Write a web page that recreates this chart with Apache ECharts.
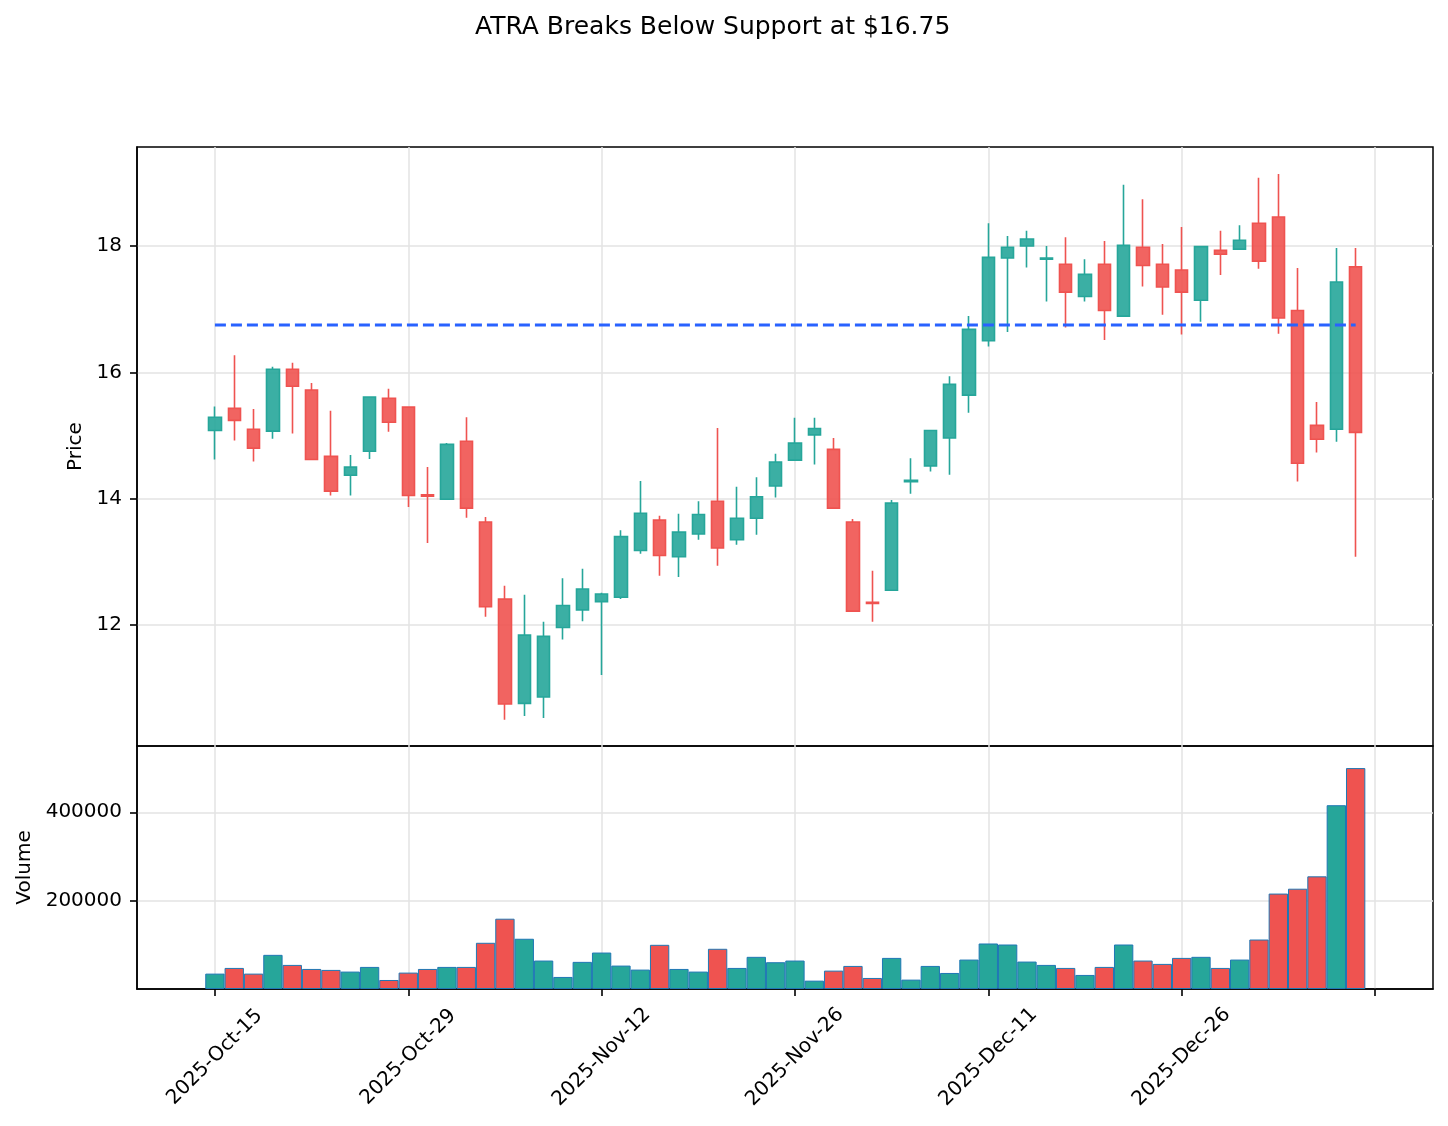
<!DOCTYPE html>
<html>
<head>
<meta charset="utf-8">
<script src="https://cdn.jsdelivr.net/npm/echarts@6/dist/echarts.min.js"></script>
<style>
  html, body { margin: 0; padding: 0; background: #fff; }
  #main { width: 1448px; height: 1126px; }
</style>
</head>
<body>
<div id="main"></div>
<script>
// trading days (index 0..59)
var dates = [
  '2025-Oct-15', '2025-Oct-16', '2025-Oct-17', '2025-Oct-20', '2025-Oct-21', '2025-Oct-22', '2025-Oct-23', '2025-Oct-24', '2025-Oct-27', '2025-Oct-28',
  '2025-Oct-29', '2025-Oct-30', '2025-Oct-31', '2025-Nov-03', '2025-Nov-04', '2025-Nov-05', '2025-Nov-06', '2025-Nov-07', '2025-Nov-10', '2025-Nov-11',
  '2025-Nov-12', '2025-Nov-13', '2025-Nov-14', '2025-Nov-17', '2025-Nov-18', '2025-Nov-19', '2025-Nov-20', '2025-Nov-21', '2025-Nov-24', '2025-Nov-25',
  '2025-Nov-26', '2025-Nov-28', '2025-Dec-01', '2025-Dec-02', '2025-Dec-03', '2025-Dec-04', '2025-Dec-05', '2025-Dec-08', '2025-Dec-09', '2025-Dec-10',
  '2025-Dec-11', '2025-Dec-12', '2025-Dec-15', '2025-Dec-16', '2025-Dec-17', '2025-Dec-18', '2025-Dec-19', '2025-Dec-22', '2025-Dec-23', '2025-Dec-24',
  '2025-Dec-26', '2025-Dec-29', '2025-Dec-30', '2025-Dec-31', '2026-Jan-02', '2026-Jan-05', '2026-Jan-06', '2026-Jan-07', '2026-Jan-08', '2026-Jan-09'
];

var opens = [
  15.08, 15.43, 15.10, 15.07, 16.05, 15.72, 14.67, 14.37, 14.75, 15.59,
  15.45, 14.06, 13.99, 14.91, 13.63, 12.41, 10.76, 10.86, 11.96, 12.24,
  12.37, 12.44, 13.18, 13.66, 13.08, 13.44, 13.96, 13.35, 13.69, 14.20,
  14.61, 15.01, 14.78, 13.63, 12.36, 12.55, 14.27, 14.52, 14.96, 15.64,
  16.50, 17.81, 18.00, 17.79, 17.71, 17.20, 17.71, 16.89, 17.98, 17.71,
  17.62, 17.14, 17.93, 17.95, 18.36, 18.46, 16.98, 15.16, 15.10, 17.67
];
var closes = [
  15.29, 15.24, 14.80, 16.05, 15.78, 14.62, 14.12, 14.50, 15.61, 15.21,
  14.05, 14.04, 14.86, 13.85, 12.29, 10.75, 11.84, 11.82, 12.31, 12.57,
  12.49, 13.40, 13.77, 13.10, 13.47, 13.75, 13.22, 13.69, 14.03, 14.58,
  14.88, 15.11, 13.85, 12.22, 12.34, 13.93, 14.29, 15.08, 15.81, 16.68,
  17.82, 17.98, 18.11, 17.81, 17.27, 17.55, 16.98, 18.01, 17.69, 17.35,
  17.27, 17.99, 17.87, 18.09, 17.76, 16.86, 14.56, 14.94, 17.43, 15.05
];
var lows = [
  14.62, 14.92, 14.59, 14.95, 15.03, 14.61, 14.05, 14.05, 14.63, 15.06,
  13.87, 13.30, 13.99, 13.70, 12.13, 10.50, 10.56, 10.53, 11.77, 12.06,
  11.21, 12.41, 13.13, 12.78, 12.76, 13.35, 12.94, 13.27, 13.43, 14.02,
  14.61, 14.54, 13.85, 12.22, 12.05, 12.55, 14.08, 14.43, 14.38, 15.36,
  16.41, 16.64, 17.66, 17.12, 16.71, 17.12, 16.51, 16.89, 17.36, 16.91,
  16.60, 16.80, 17.54, 17.95, 17.64, 16.61, 14.27, 14.73, 14.90, 13.08
];
var highs = [
  15.46, 16.27, 15.42, 16.09, 16.15, 15.83, 15.39, 14.69, 15.61, 15.74,
  15.45, 14.50, 14.88, 15.29, 13.71, 12.62, 12.48, 12.05, 12.74, 12.89,
  12.51, 13.50, 14.28, 13.73, 13.76, 13.96, 15.12, 14.19, 14.34, 14.71,
  15.28, 15.28, 14.96, 13.68, 12.86, 13.98, 14.64, 15.08, 15.94, 16.89,
  18.36, 18.16, 18.24, 18.00, 18.14, 17.79, 18.08, 18.97, 18.74, 18.03,
  18.30, 17.99, 18.24, 18.33, 19.08, 19.14, 17.65, 15.53, 17.97, 17.97
];
var volumes = [
  34800, 47700, 34800, 77300, 54500, 45400, 43200, 39400, 50000, 20400,
  37100, 45400, 50000, 50000, 104600, 159100, 113700, 64400, 27300, 61400,
  82500, 53000, 43900, 100000, 45400, 39400, 91000, 47700, 72800, 60600,
  64400, 18900, 41600, 52200, 25000, 70400, 21200, 52200, 36300, 66600,
  103000, 100700, 62100, 54500, 47700, 31800, 50000, 100700, 64400, 56800,
  70400, 72800, 47700, 66600, 112000, 216000, 227000, 255000, 416000, 500000
];

var supportLevel = 16.75;
var xTicks = [0, 10, 20, 30, 40, 50, 60];
var priceTicks = [12, 14, 16, 18];
var volumeTicks = [200000, 400000];

var UP = '#26a69a';
var DOWN = '#ef5350';
var FONT = 'DejaVu Sans';

var candleData = [];
var volumeData = [];
for (var i = 0; i < dates.length; i++) {
  candleData.push([i, opens[i], closes[i], lows[i], highs[i]]);
  volumeData.push({
    value: [i, volumes[i]],
    itemStyle: { color: closes[i] >= opens[i] ? UP : DOWN }
  });
}
var supportData = [[0, supportLevel], [dates.length - 1, supportLevel]];

var myChart = echarts.init(document.getElementById('main'));

function gridLine() { return { show: true, lineStyle: { color: '#e3e3e3', width: 1.5 } }; }
function tickStyle() { return { color: '#000', width: 1.6 }; }
function spine() { return { show: true, onZero: false, lineStyle: { color: '#000', width: 1.5 } }; }
var xMin = -4.03, xMax = 63.0;

var option = {
  animation: false,
  backgroundColor: '#fff',
  textStyle: { fontFamily: FONT },
  title: {
    text: 'ATRA Breaks Below Support at $16.75',
    left: 470,
    top: 10,
    textStyle: { fontFamily: FONT, fontSize: 25, fontWeight: 'normal', color: '#000' }
  },
  grid: [
    { left: 137, top: 147, width: 1296, height: 599, show: true, borderColor: '#000', borderWidth: 1.5 },
    { left: 137, top: 746, width: 1296, height: 243, show: true, borderColor: '#000', borderWidth: 1.5 }
  ],
  xAxis: [
    {
      type: 'value', gridIndex: 0, min: xMin, max: xMax,
      axisLine: { show: false, onZero: false },
      axisTick: { show: false, customValues: xTicks },
      axisLabel: { show: false, customValues: xTicks },
      splitLine: gridLine()
    },
    {
      type: 'value', gridIndex: 1, min: xMin, max: xMax,
      axisLine: spine(),
      axisTick: { show: true, length: 7, customValues: xTicks, lineStyle: tickStyle() },
      axisLabel: {
        customValues: xTicks,
        rotate: 45,
        align: 'center',
        verticalAlign: 'middle',
        margin: 68,
        fontSize: 20,
        color: '#000',
        fontFamily: FONT,
        formatter: function (v) { return dates[Math.round(v)] || ''; }
      },
      splitLine: gridLine()
    }
  ],
  yAxis: [
    {
      type: 'value', gridIndex: 0, min: 10.085, max: 19.567,
      name: 'Price', nameLocation: 'middle', nameGap: 50,
      nameTextStyle: { fontSize: 20, color: '#000', fontFamily: FONT },
      axisLine: spine(),
      axisTick: { show: true, inside: false, length: 7, customValues: priceTicks, lineStyle: tickStyle() },
      axisLabel: { customValues: priceTicks, margin: 15, fontSize: 20, color: '#000', fontFamily: FONT },
      splitLine: gridLine()
    },
    {
      type: 'value', gridIndex: 1, min: 0, max: 550000, interval: 200000,
      name: 'Volume', nameLocation: 'middle', nameGap: 96,
      nameTextStyle: { fontSize: 20, color: '#000', fontFamily: FONT },
      axisLine: spine(),
      axisTick: { show: true, inside: false, length: 7, customValues: volumeTicks, lineStyle: tickStyle() },
      axisLabel: {
        customValues: volumeTicks, margin: 15, fontSize: 20, color: '#000', fontFamily: FONT,
        formatter: function (v) { return String(v); }
      },
      splitLine: gridLine()
    }
  ],
  series: [
    {
      name: 'ATRA',
      type: 'candlestick',
      xAxisIndex: 0,
      yAxisIndex: 0,
      encode: { x: 0, y: [1, 2, 3, 4] },
      barWidth: 12.7,
      itemStyle: {
        color: 'rgba(38,166,154,0.9)',
        color0: 'rgba(239,83,80,0.9)',
        borderColor: UP,
        borderColor0: DOWN,
        borderWidth: 1.6
      },
      data: candleData
    },
    {
      name: 'Support',
      type: 'line',
      xAxisIndex: 0,
      yAxisIndex: 0,
      symbol: 'none',
      lineStyle: { color: '#2962ff', width: 3, type: [11, 5] },
      data: supportData,
      z: 5
    },
    {
      name: 'Volume',
      type: 'bar',
      xAxisIndex: 1,
      yAxisIndex: 1,
      barWidth: '100%',
      itemStyle: { borderColor: '#1f77b4', borderWidth: 1 },
      data: volumeData
    }
  ]
};
myChart.setOption(option);
</script>
</body>
</html>
